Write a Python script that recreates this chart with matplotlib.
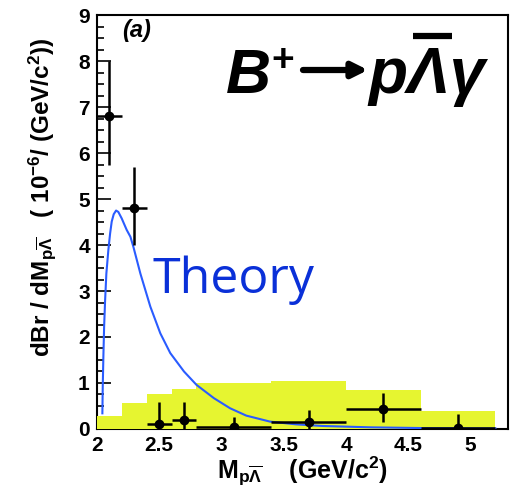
import numpy as np
import matplotlib.pyplot as plt
from matplotlib.ticker import MultipleLocator
from matplotlib.lines import Line2D

plt.rcParams['font.family'] = ['Liberation Sans', 'DejaVu Sans']
plt.rcParams['mathtext.fontset'] = 'custom'
plt.rcParams['mathtext.rm'] = 'Liberation Sans:bold'
plt.rcParams['mathtext.bf'] = 'Liberation Sans:bold'
plt.rcParams['mathtext.it'] = 'Liberation Sans:bold:italic'
plt.rcParams['mathtext.default'] = 'bf'

# measured points
x_pts = [2.1, 2.3, 2.5, 2.7, 3.1, 3.7, 4.3, 4.9]
x_err = [0.1, 0.1, 0.1, 0.1, 0.3, 0.3, 0.3, 0.3]
y_pts = [6.8, 4.8, 0.11, 0.2, 0.05, 0.16, 0.43, 0.03]
y_lo = [1.05, 0.8, 0.11, 0.2, 0.05, 0.16, 0.28, 0.03]
y_hi = [1.2, 0.9, 0.48, 0.39, 0.2, 0.25, 0.35, 0.3]

# yellow band (bin edges / heights)
band_edges = [2.0, 2.2, 2.4, 2.6, 2.8, 3.4, 4.0, 4.6, 5.2]
band_h = [0.29, 0.56, 0.75, 0.87, 1.01, 1.04, 0.85, 0.40]

# theory curve
th_x = [2.045, 2.048, 2.053, 2.059, 2.067, 2.077, 2.093, 2.107, 2.12, 2.136,
        2.155, 2.173, 2.20, 2.24, 2.27, 2.294, 2.35, 2.43, 2.51, 2.59, 2.70,
        2.80, 2.94, 3.07, 3.20, 3.39, 3.6, 3.81, 4.2, 4.6, 5.2]
th_y = [0.34, 0.92, 1.57, 2.22, 2.80, 3.38, 3.89, 4.25, 4.51, 4.67,
        4.75, 4.72, 4.58, 4.33, 4.18, 3.96, 3.38, 2.66, 2.08, 1.65, 1.25,
        0.96, 0.67, 0.45, 0.29, 0.16, 0.10, 0.065, 0.035, 0.02, 0.01]

W, H = 512, 488
fig = plt.figure(figsize=(W / 100, H / 100), dpi=100)
ax = fig.add_axes([0.189, 0.121, 0.803, 0.848])

ax.stairs(band_h, band_edges, fill=True, color='#e6f530', zorder=3, lw=0)
ax.plot(th_x, th_y, color='#2a5cff', lw=1.5, zorder=4)
ax.errorbar(x_pts, y_pts, xerr=x_err, yerr=[y_lo, y_hi], fmt='o', color='black',
            ms=6, elinewidth=1.8, capsize=0, zorder=5)

ax.set_xlim(2, 5.3)
ax.set_ylim(0, 9)
ax.set_xticks([2, 2.5, 3, 3.5, 4, 4.5, 5])
ax.set_xticklabels(['2', '2.5', '3', '3.5', '4', '4.5', '5'])
ax.yaxis.set_major_locator(MultipleLocator(1))
ax.yaxis.set_minor_locator(MultipleLocator(0.25))
ax.tick_params(axis='y', which='major', direction='in', length=10, width=1.2,
               labelsize=15, pad=5)
ax.tick_params(axis='y', which='minor', direction='in', length=5, width=1.2)
ax.tick_params(axis='x', direction='in', length=0, labelsize=15, pad=5)
for lab in ax.get_xticklabels() + ax.get_yticklabels():
    lab.set_fontweight('bold')
for s in ax.spines.values():
    s.set_linewidth(1.5)

ax.set_xlabel(r'M$_{\mathbf{p\overline{\Lambda}}}$    (GeV/c$^{\mathbf{2}}$)',
              fontsize=18, fontweight='bold', labelpad=0)
ax.set_ylabel(r'dBr / dM$_{\mathbf{p\overline{\Lambda}}}$   ( 10$^{\mathbf{-6}}$/ (GeV/c$^{\mathbf{2}}$))',
              fontsize=17.5, fontweight='bold')
ax.yaxis.set_label_coords(-0.095, 0.56)

ax.text(0.062, 0.99, '(a)', transform=ax.transAxes, fontsize=17,
        fontweight='bold', fontstyle='italic', va='top')

# decay label, built in pieces (pixel positions -> figure fraction)
base = 1 - 93 / H
fig.text(226 / W, base, 'B', fontsize=45, fontweight='bold', fontstyle='italic')
fig.text(271 / W, 1 - 71 / H, '+', fontsize=28, fontweight='bold')
ax.annotate('', xy=(368 / W, 1 - 70 / H), xytext=(303 / W, 1 - 70 / H),
            xycoords='figure fraction', textcoords='figure fraction',
            arrowprops=dict(arrowstyle='-|>,head_length=0.9,head_width=0.45',
                            lw=4.5, color='black', shrinkA=0, shrinkB=0))
fig.text(368 / W, base, 'p\u039b\u03b3', fontsize=46, fontweight='bold',
         fontstyle='italic')
fig.add_artist(Line2D([413 / W, 452 / W], [1 - 36 / H, 1 - 36 / H],
                      lw=4.5, color='black', solid_capstyle='butt'))

ax.text(2.445, 2.96, 'Theory', fontsize=36, color='#0a30d8',
        fontfamily='Open Sans')

fig.savefig('out.png', dpi=100)
